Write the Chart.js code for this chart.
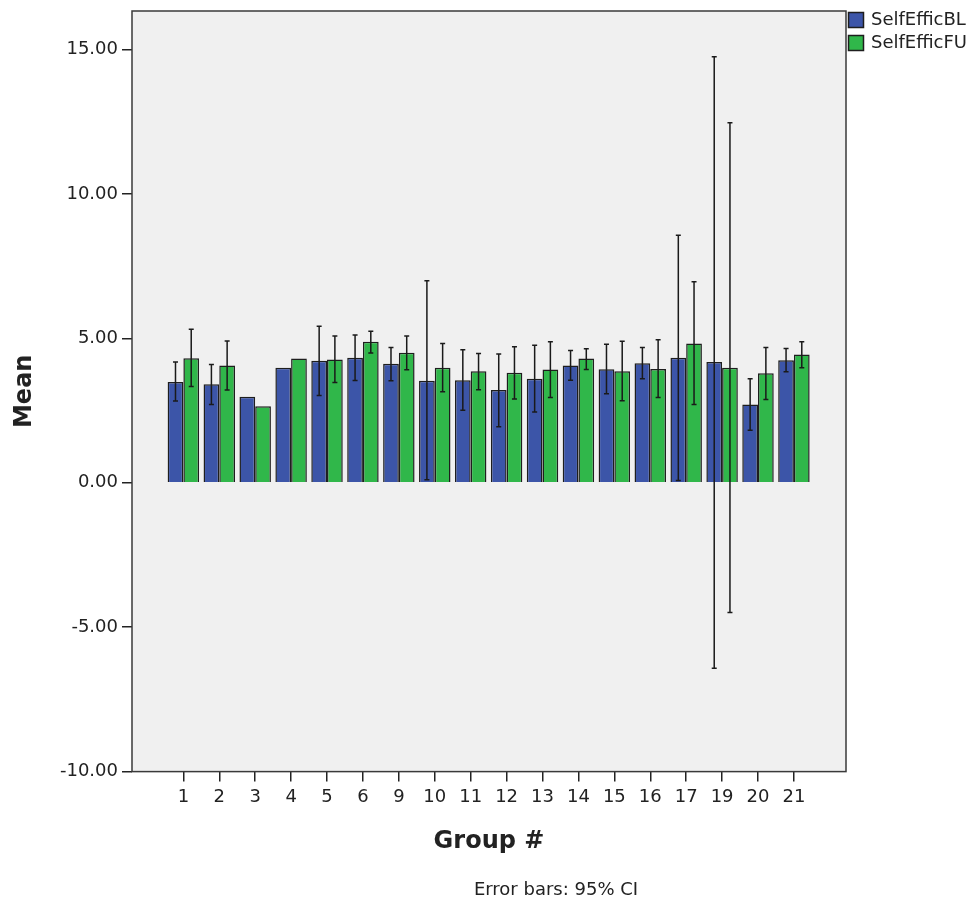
<!DOCTYPE html>
<html>
<head>
<meta charset="utf-8">
<script src="https://cdn.jsdelivr.net/npm/chart.js@4/dist/chart.umd.min.js"></script>
<style>
  html, body { margin: 0; padding: 0; background: #fff; }
  #wrap { width: 975px; height: 905px; }
</style>
</head>
<body>
<div id="wrap"><canvas id="chart" width="975" height="905"></canvas></div>
<script>
// ── Data ───────────────────────────────────────
const groups = ['1', '2', '3', '4', '5', '6', '9', '10', '11', '12', '13', '14', '15', '16', '17', '19', '20', '21'];

const blMean = [3.49, 3.41, 2.98, 3.98, 4.22, 4.33, 4.12, 3.53, 3.55, 3.21, 3.60, 4.06, 3.93, 4.14, 4.33, 4.18, 2.71, 4.24];
const blLow  = [2.83, 2.71, null, null, 3.02, 3.54, 3.53, 0.10, 2.51, 1.94, 2.45, 3.55, 3.08, 3.60, 0.08, -6.42, 1.82, 3.84];
const blHigh = [4.18, 4.09, null, null, 5.42, 5.11, 4.68, 6.99, 4.60, 4.46, 4.76, 4.58, 4.79, 4.68, 8.57, 14.75, 3.60, 4.65];

const fuMean = [4.31, 4.06, 2.65, 4.30, 4.27, 4.88, 4.50, 3.98, 3.86, 3.81, 3.92, 4.30, 3.86, 3.94, 4.82, 3.98, 3.79, 4.44];
const fuLow  = [3.33, 3.21, null, null, 3.47, 4.49, 3.91, 3.15, 3.22, 2.90, 2.95, 3.92, 2.84, 2.95, 2.71, -4.49, 2.88, 3.98];
const fuHigh = [5.31, 4.91, null, null, 5.08, 5.24, 5.08, 4.82, 4.47, 4.71, 4.88, 4.64, 4.90, 4.95, 6.96, 12.46, 4.68, 4.88];

const yTicks = [-10, -5, 0, 5, 10, 15];
const footNote = 'Error bars: 95% CI';

const FONT = "'DejaVu Sans', sans-serif";
const TEXT = '#222';

// ── Plugins ────────────────────────────────────
// grey plot panel with a dark frame (SPSS look)
const panel = {
  id: 'panel',
  beforeDatasetsDraw(chart) {
    const { ctx, chartArea: a } = chart;
    ctx.save();
    ctx.fillStyle = '#f0f0f0';
    ctx.fillRect(a.left, a.top, a.right - a.left, a.bottom - a.top);
    ctx.strokeStyle = '#3a3a3a';
    ctx.lineWidth = 1.5;
    ctx.strokeRect(a.left, a.top, a.right - a.left, a.bottom - a.top);
    ctx.restore();
  }
};

// 95% CI whiskers, read from the low/high arrays
const errorBars = {
  id: 'errorBars',
  afterDatasetsDraw(chart) {
    const { ctx, scales: { y } } = chart;
    ctx.save();
    ctx.strokeStyle = '#1a1a1a';
    ctx.lineWidth = 1.5;
    chart.data.datasets.forEach((ds, di) => {
      const meta = chart.getDatasetMeta(di);
      meta.data.forEach((bar, i) => {
        const lo = ds.ciLow[i], hi = ds.ciHigh[i];
        if (lo == null || hi == null) return;
        const yl = y.getPixelForValue(lo), yh = y.getPixelForValue(hi);
        ctx.beginPath();
        ctx.moveTo(bar.x, yl); ctx.lineTo(bar.x, yh);
        ctx.moveTo(bar.x - 2.5, yl); ctx.lineTo(bar.x + 2.5, yl);
        ctx.moveTo(bar.x - 2.5, yh); ctx.lineTo(bar.x + 2.5, yh);
        ctx.stroke();
      });
    });
    ctx.restore();
  }
};

// legend at the top right + footnote under the x axis
const annotations = {
  id: 'annotations',
  afterDraw(chart) {
    const { ctx, chartArea: a } = chart;
    ctx.save();
    ctx.font = '18px ' + FONT;
    ctx.fillStyle = TEXT;
    ctx.textBaseline = 'middle';
    chart.data.datasets.forEach((ds, i) => {
      const top = a.top + 1 + i * 23;
      ctx.fillStyle = ds.backgroundColor;
      ctx.fillRect(a.right + 2, top, 16, 16);
      ctx.strokeStyle = '#1e1e1e';
      ctx.lineWidth = 1.5;
      ctx.strokeRect(a.right + 2.5, top + 0.5, 15, 15);
      ctx.fillStyle = TEXT;
      ctx.textAlign = 'left';
      ctx.fillText(ds.label, a.right + 25, top + 8);
    });
    ctx.textAlign = 'center';
    ctx.fillText(footNote, 556, 890);
    ctx.restore();
  }
};

// ── Chart ──────────────────────────────────────
new Chart(document.getElementById('chart'), {
  type: 'bar',
  data: {
    datasets: [
      {
        label: 'SelfEfficBL',
        data: blMean.map((v, i) => ({ x: i, y: v })),
        ciLow: blLow, ciHigh: blHigh,
        backgroundColor: '#3c55a8',
        borderColor: '#1e1e1e',
        borderWidth: 1.5,
      },
      {
        label: 'SelfEfficFU',
        data: fuMean.map((v, i) => ({ x: i, y: v })),
        ciLow: fuLow, ciHigh: fuHigh,
        backgroundColor: '#30b74a',
        borderColor: '#1e1e1e',
        borderWidth: 1.5,
      }
    ]
  },
  options: {
    responsive: false,
    animation: false,
    categoryPercentage: 0.876,
    barPercentage: 1.0,
    layout: { padding: { top: 11, left: 0, right: 129, bottom: 47 } },
    plugins: {
      legend: { display: false },
      tooltip: { enabled: false }
    },
    scales: {
      x: {
        type: 'linear',
        offset: false,
        min: -1.43,
        max: 18.45,
        afterBuildTicks: s => { s.ticks = groups.map((_, i) => ({ value: i })); },
        ticks: {
          autoSkip: false,
          maxRotation: 0,
          padding: 5,
          color: TEXT,
          font: { family: FONT, size: 18 },
          callback: v => groups[v]
        },
        grid: { offset: false, drawOnChartArea: false, drawTicks: true, tickLength: 10, color: '#222', lineWidth: 1.5 },
        border: { display: false },
        title: {
          display: true,
          text: 'Group #',
          color: TEXT,
          font: { family: FONT, size: 24, weight: 'bold' },
          padding: { top: 14, bottom: 2 }
        }
      },
      y: {
        min: -10,
        max: 16.33,
        afterBuildTicks: s => { s.ticks = yTicks.map(v => ({ value: v })); },
        afterFit: s => { s.width = 132; s.paddingTop = 0; s.paddingBottom = 0; },
        ticks: {
          padding: 4,
          color: TEXT,
          font: { family: FONT, size: 18 },
          callback: v => v.toFixed(2)
        },
        grid: { drawOnChartArea: false, drawTicks: true, tickLength: 10, color: '#222', lineWidth: 1.5 },
        border: { display: false },
        title: {
          display: true,
          text: 'Mean',
          color: TEXT,
          font: { family: FONT, size: 24, weight: 'bold' },
          padding: { top: 10, bottom: 0 }
        }
      }
    }
  },
  plugins: [panel, errorBars, annotations]
});
</script>
</body>
</html>
